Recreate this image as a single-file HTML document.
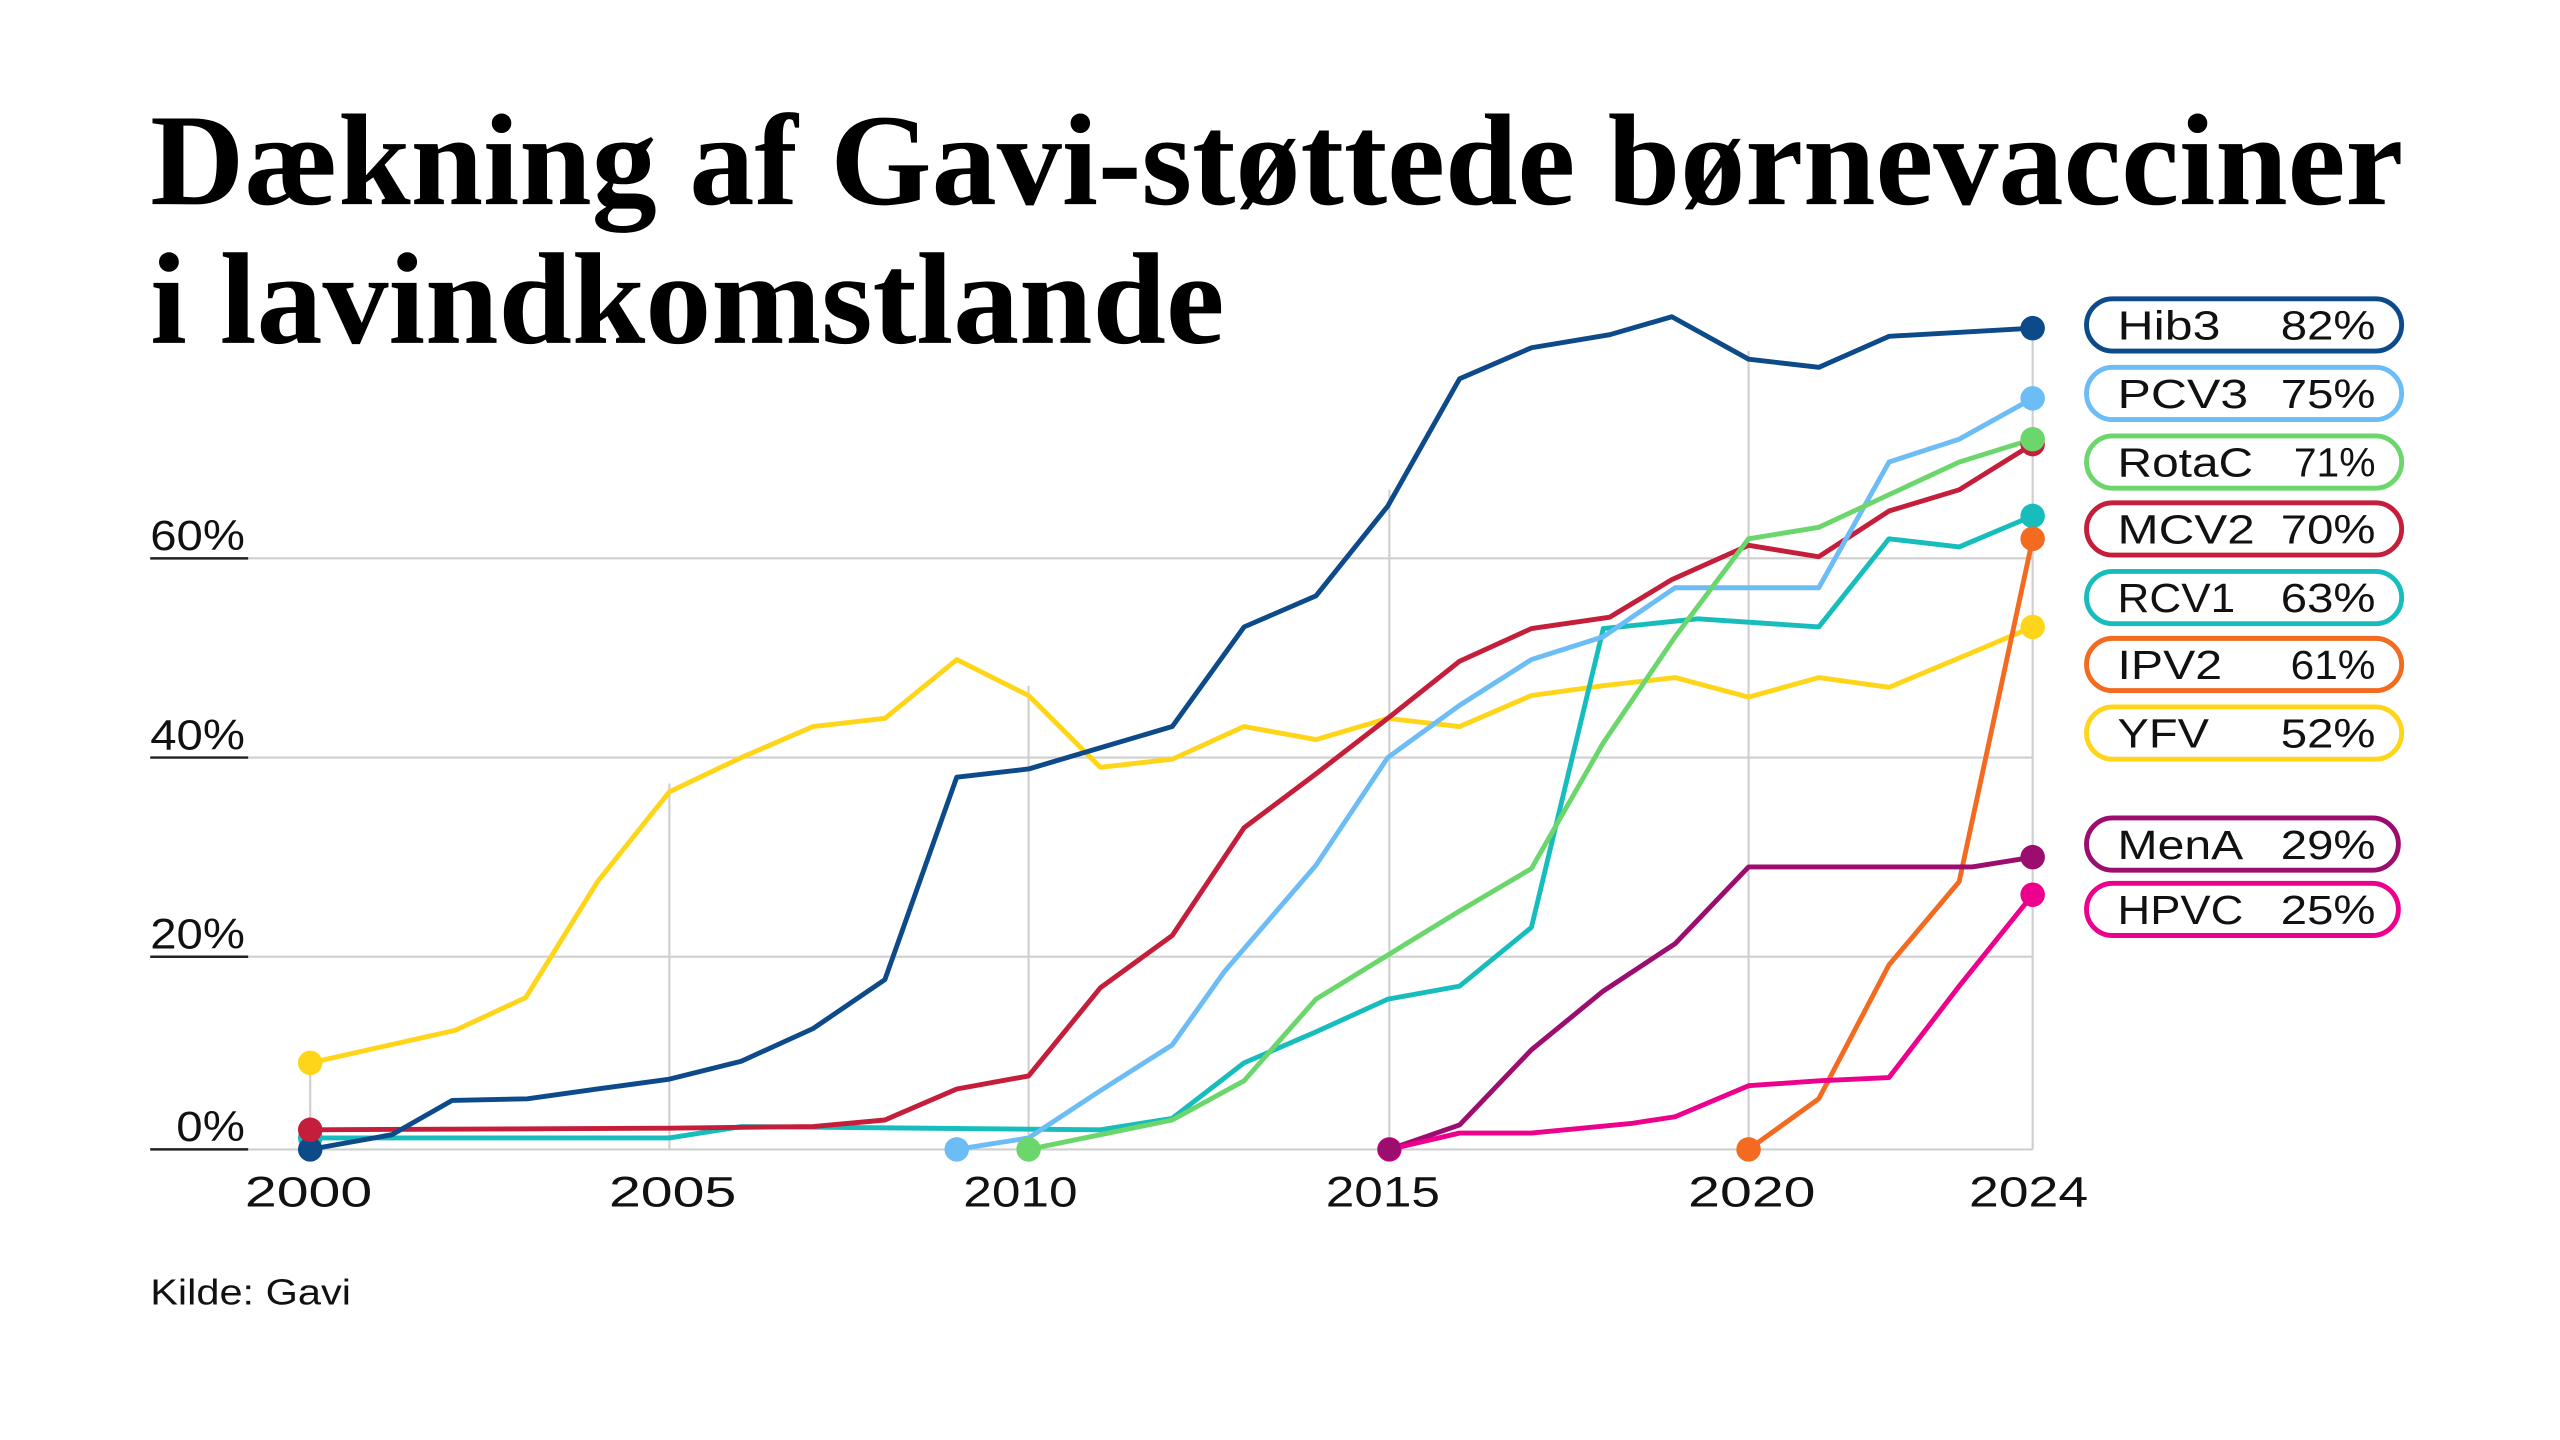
<!DOCTYPE html>
<html><head><meta charset="utf-8"><style>html,body{margin:0;padding:0;background:#fff}svg{display:block}</style></head>
<body>
<svg width="2560" height="1440" viewBox="0 0 1568 882" xmlns="http://www.w3.org/2000/svg">
<rect width="1568" height="882" fill="#fff"/>
<text x="92" y="125" font-family="Liberation Serif, serif" font-weight="bold" font-size="80" textLength="1380" lengthAdjust="spacingAndGlyphs" fill="#000">Dækning af Gavi-støttede børnevacciner</text>
<text x="92" y="210" font-family="Liberation Serif, serif" font-weight="bold" font-size="80" textLength="658" lengthAdjust="spacingAndGlyphs" fill="#000">i lavindkomstlande</text>
<g stroke="#cfcfcf" stroke-width="1.3">
<line x1="150" y1="342" x2="1245" y2="342"/><line x1="150" y1="464" x2="1245" y2="464"/><line x1="150" y1="586" x2="1245" y2="586"/><line x1="150" y1="704" x2="1245" y2="704"/>
<line x1="190" y1="650" x2="190" y2="704"/><line x1="410" y1="480" x2="410" y2="704"/><line x1="630" y1="420" x2="630" y2="704"/><line x1="851" y1="300" x2="851" y2="704"/><line x1="1071" y1="215" x2="1071" y2="704"/><line x1="1245" y1="200" x2="1245" y2="704"/>
</g>
<g stroke="#222" stroke-width="1.5"><line x1="92" y1="342" x2="152" y2="342"/><line x1="92" y1="464" x2="152" y2="464"/><line x1="92" y1="586" x2="152" y2="586"/><line x1="92" y1="704" x2="152" y2="704"/></g>
<g font-family="Liberation Sans, sans-serif" font-size="26" fill="#111">
<text x="92" y="337" textLength="58" lengthAdjust="spacingAndGlyphs">60%</text>
<text x="92" y="459" textLength="58" lengthAdjust="spacingAndGlyphs">40%</text>
<text x="92" y="581" textLength="58" lengthAdjust="spacingAndGlyphs">20%</text>
<text x="108" y="699" textLength="42" lengthAdjust="spacingAndGlyphs">0%</text>
<text x="150" y="739" textLength="78" lengthAdjust="spacingAndGlyphs">2000</text>
<text x="373" y="739" textLength="78" lengthAdjust="spacingAndGlyphs">2005</text>
<text x="590" y="739" textLength="70" lengthAdjust="spacingAndGlyphs">2010</text>
<text x="812" y="739" textLength="70" lengthAdjust="spacingAndGlyphs">2015</text>
<text x="1034" y="739" textLength="78" lengthAdjust="spacingAndGlyphs">2020</text>
<text x="1206" y="739" textLength="73" lengthAdjust="spacingAndGlyphs">2024</text>
<text x="92" y="799" font-size="22" textLength="123" lengthAdjust="spacingAndGlyphs">Kilde: Gavi</text>
</g>
<g fill="none" stroke-width="3" stroke-linejoin="round" stroke-linecap="round">
<polyline stroke="#ffd51a" points="190,651 279,631 322,611 366,540 410,485 454,464 498,445 542,440 586,404 630,426 674,470 718,465 762,445 806,453 850,440 894,445 938,426 982,420 1026,415 1071,427 1114,415 1157,421 1200,403 1245,384"/>
<polyline stroke="#17bdbd" points="190,697 410,697 454,690 674,692 718,685 762,651 806,632 850,612 894,604 938,568 982,385 1040,379 1114,384 1157,330 1200,335 1245,316"/>
<polyline stroke="#c41e3a" points="190,692 410,691 498,690 542,686 586,667 630,659 674,605 718,573 762,507 806,474 850,440 894,405 938,385 986,378 1024,355 1071,334 1114,341 1157,313 1200,300 1245,272"/>
<polyline stroke="#0d4a8a" points="190,704 240,695 277,674 323,673 366,667 410,661 454,650 498,630 542,600 586,476 630,471 674,458 718,445 762,384 806,365 850,310 894,232 938,213 986,205 1024,194 1071,220 1114,225 1157,206 1245,201"/>
<polyline stroke="#6cbcf5" points="586,704 630,697 674,668 718,640 750,595 806,530 850,464 894,432 938,404 982,390 1026,360 1071,360 1114,360 1157,283 1200,269 1245,244"/>
<polyline stroke="#6bd66b" points="630,704 674,695 718,686 762,662 806,612 850,585 894,558 938,532 982,455 1026,390 1071,330 1114,323 1157,303 1200,283 1245,269"/>
<polyline stroke="#f26b21" points="1071,704 1114,673 1157,591 1200,540 1245,330"/>
<polyline stroke="#9b0d6e" points="851,704 894,689 938,643 982,607 1026,578 1071,531 1114,531 1208,531 1245,525"/>
<polyline stroke="#ec008c" points="851,704 894,694 938,694 1000,688 1026,684 1071,665 1114,662 1157,660 1200,604 1245,548"/>
</g>
<g>
<circle cx="190" cy="651" r="7.5" fill="#ffd51a"/><circle cx="190" cy="697" r="7.5" fill="#17bdbd"/><circle cx="190" cy="704" r="7.5" fill="#0d4a8a"/><circle cx="190" cy="692" r="7.5" fill="#c41e3a"/>
<circle cx="586" cy="704" r="7.5" fill="#6cbcf5"/><circle cx="630" cy="704" r="7.5" fill="#6bd66b"/><circle cx="851" cy="704" r="7.5" fill="#ec008c"/><circle cx="851" cy="704" r="7" fill="#9b0d6e"/><circle cx="1071" cy="704" r="7.5" fill="#f26b21"/>
<circle cx="1245" cy="201" r="7.5" fill="#0d4a8a"/><circle cx="1245" cy="244" r="7.5" fill="#6cbcf5"/><circle cx="1245" cy="272" r="7.5" fill="#c41e3a"/><circle cx="1245" cy="269" r="7.5" fill="#6bd66b"/><circle cx="1245" cy="316" r="7.5" fill="#17bdbd"/><circle cx="1245" cy="330" r="7.5" fill="#f26b21"/><circle cx="1245" cy="384" r="7.5" fill="#ffd51a"/><circle cx="1245" cy="525" r="7.5" fill="#9b0d6e"/><circle cx="1245" cy="548" r="7.5" fill="#ec008c"/>
</g>
<g fill="#fff" stroke-width="3">
<rect x="1278" y="183" width="193" height="32" rx="16" stroke="#0d4a8a"/>
<rect x="1278" y="225" width="193" height="32" rx="16" stroke="#6cbcf5"/>
<rect x="1278" y="267" width="193" height="32" rx="16" stroke="#6bd66b"/>
<rect x="1278" y="308" width="193" height="32" rx="16" stroke="#c41e3a"/>
<rect x="1278" y="350" width="193" height="32" rx="16" stroke="#17bdbd"/>
<rect x="1278" y="391" width="193" height="32" rx="16" stroke="#f26b21"/>
<rect x="1278" y="433" width="193" height="32" rx="16" stroke="#ffd51a"/>
<rect x="1278" y="501" width="191" height="32" rx="16" stroke="#9b0d6e"/>
<rect x="1278" y="541" width="191" height="32" rx="16" stroke="#ec008c"/>
</g>
<g font-family="Liberation Sans, sans-serif" font-size="25" fill="#111">
<text x="1297" y="208" textLength="63" lengthAdjust="spacingAndGlyphs">Hib3</text>
<text x="1297" y="250" textLength="80" lengthAdjust="spacingAndGlyphs">PCV3</text>
<text x="1297" y="292" textLength="83" lengthAdjust="spacingAndGlyphs">RotaC</text>
<text x="1297" y="333" textLength="84" lengthAdjust="spacingAndGlyphs">MCV2</text>
<text x="1297" y="375" textLength="72" lengthAdjust="spacingAndGlyphs">RCV1</text>
<text x="1297" y="416" textLength="64" lengthAdjust="spacingAndGlyphs">IPV2</text>
<text x="1297" y="458" textLength="56" lengthAdjust="spacingAndGlyphs">YFV</text>
<text x="1297" y="526" textLength="77" lengthAdjust="spacingAndGlyphs">MenA</text>
<text x="1297" y="566" textLength="77" lengthAdjust="spacingAndGlyphs">HPVC</text>
<g text-anchor="end">
<text x="1455" y="208" textLength="58" lengthAdjust="spacingAndGlyphs">82%</text>
<text x="1455" y="250" textLength="58" lengthAdjust="spacingAndGlyphs">75%</text>
<text x="1455" y="292" textLength="50" lengthAdjust="spacingAndGlyphs">71%</text>
<text x="1455" y="333" textLength="58" lengthAdjust="spacingAndGlyphs">70%</text>
<text x="1455" y="375" textLength="58" lengthAdjust="spacingAndGlyphs">63%</text>
<text x="1455" y="416" textLength="52" lengthAdjust="spacingAndGlyphs">61%</text>
<text x="1455" y="458" textLength="58" lengthAdjust="spacingAndGlyphs">52%</text>
<text x="1455" y="526" textLength="58" lengthAdjust="spacingAndGlyphs">29%</text>
<text x="1455" y="566" textLength="58" lengthAdjust="spacingAndGlyphs">25%</text>
</g>
</g>
</svg>
</body></html>
